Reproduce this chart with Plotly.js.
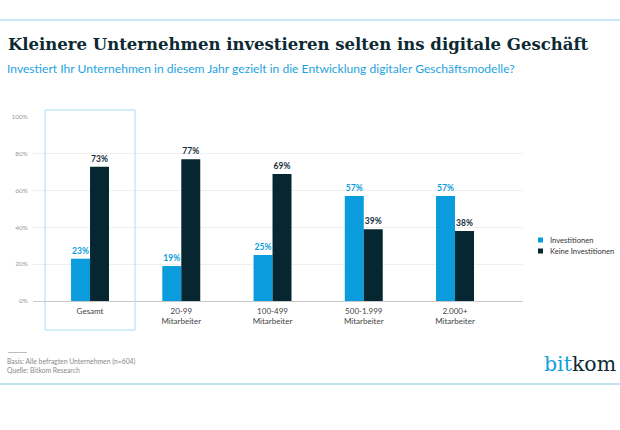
<!DOCTYPE html>
<html>
<head>
<meta charset="utf-8">
<script src="https://cdn.plot.ly/plotly-3.0.1.min.js"></script>
<style>html,body{margin:0;padding:0;background:#fff;}#chart{width:620px;height:430px;}</style>
</head>
<body>
<div id="chart"></div>
<script>
const categories = ['Gesamt', '20-99<br>Mitarbeiter', '100-499<br>Mitarbeiter', '500-1.999<br>Mitarbeiter', '2.000+<br>Mitarbeiter'];
const investitionen = [23, 19, 25, 57, 57];
const keineInvestitionen = [73, 77, 69, 39, 38];
const seriesNames = ['Investitionen', 'Keine Investitionen'];
const yTickValues = [0, 20, 40, 60, 80, 100];
const yTickLabels = ['0%', '20%', '40%', '60%', '80%', '100%'];
const titleText = 'Kleinere Unternehmen investieren selten ins digitale Geschäft';
const subtitleText = 'Investiert Ihr Unternehmen in diesem Jahr gezielt in die Entwicklung digitaler Geschäftsmodelle?';
const footerLines = ['Basis: Alle befragten Unternehmen (n=604)', 'Quelle: Bitkom Research'];

const BLUE = '#0a9cdc';
const DARK = '#062731';
const SANS = 'Lato, "Open Sans", sans-serif';
const SERIF = '"DejaVu Serif", serif';

// plot area in px: left 33, right 523, top 117, bottom 301
const L = 33, R = 523, T = 117, B = 301;
const px = v => (v - L) / (R - L);
const py = v => (B - v) / (B - T);

const barCommon = {
  type: 'bar', x: categories, showlegend: false,
  textposition: 'outside', texttemplate: '%{y}%', cliponaxis: false,
  constraintext: 'none', hoverinfo: 'skip'
};
const traces = [
  Object.assign({}, barCommon, {y: investitionen, name: seriesNames[0], marker: {color: BLUE},
    textfont: {family: SANS, size: 8.5, color: BLUE, weight: 'bold'}}),
  Object.assign({}, barCommon, {y: keineInvestitionen, name: seriesNames[1], marker: {color: DARK},
    textfont: {family: SANS, size: 8.5, color: '#16303a', weight: 'bold'}})
];

const legendColors = [BLUE, DARK];
const legendY = [240, 251];
const legendShapes = seriesNames.map((n, i) => ({
  type: 'rect', xref: 'paper', yref: 'paper',
  x0: px(538), x1: px(543), y0: py(legendY[i] + 2.5), y1: py(legendY[i] - 2.5),
  line: {width: 0}, fillcolor: legendColors[i]
}));
const legendAnnotations = seriesNames.map((n, i) => ({
  xref: 'paper', yref: 'paper', x: px(548), y: py(legendY[i]), xanchor: 'left', yanchor: 'middle',
  text: n, showarrow: false, font: {family: SANS, size: 7.6, color: '#333'}
}));

const layout = {
  width: 620, height: 430,
  margin: {l: L, r: 620 - R, t: T, b: 430 - B, pad: 0},
  paper_bgcolor: '#fff', plot_bgcolor: '#fff',
  showlegend: false,
  barmode: 'group', bargap: 0.584, bargroupgap: 0,
  title: {text: '<b>' + titleText + '</b>', x: 8 / 620, xanchor: 'left', xref: 'container',
    y: 1 - 44 / 430, yref: 'container', yanchor: 'middle',
    font: {family: SERIF, size: 16.5, color: '#0d2a33'}},
  xaxis: {range: [-0.625, 4.745], showgrid: false, zeroline: false, showline: false,
    ticks: '', ticklabelstandoff: 4, tickfont: {family: SANS, size: 8, color: '#444'}, fixedrange: true},
  yaxis: {range: [0, 100], tickvals: yTickValues, ticktext: yTickLabels, showgrid: true, gridcolor: '#efefef',
    gridwidth: 1, zeroline: true, zerolinecolor: '#c8c8c8', zerolinewidth: 1, showline: false,
    ticks: '', ticklabelstandoff: 4, tickfont: {family: SANS, size: 6.5, color: '#9a9a9a'}, fixedrange: true},
  shapes: [
    {type: 'line', xref: 'paper', yref: 'paper', x0: px(0), x1: px(620), y0: py(20), y1: py(20),
      line: {color: '#b7e1f4', width: 1.5}},
    {type: 'line', xref: 'paper', yref: 'paper', x0: px(0), x1: px(620), y0: py(384), y1: py(384),
      line: {color: '#a8dbf3', width: 1.5}},
    {type: 'rect', xref: 'x', yref: 'paper', x0: -0.493, x1: 0.493, y0: py(330), y1: py(110),
      line: {color: '#aadcf2', width: 1}, fillcolor: 'rgba(0,0,0,0)', layer: 'above'},
    {type: 'line', xref: 'paper', yref: 'paper', x0: px(8), x1: px(27), y0: py(352.5), y1: py(352.5),
      line: {color: '#bdbdbd', width: 1}}
  ].concat(legendShapes),
  annotations: [
    {xref: 'paper', yref: 'paper', x: px(5), y: py(68), xanchor: 'left', yanchor: 'middle',
      text: subtitleText, showarrow: false, font: {family: SANS, size: 12.1, color: '#1fa3de'}},
    {xref: 'paper', yref: 'paper', x: px(5), y: py(361.5), xanchor: 'left', yanchor: 'middle',
      text: footerLines[0], showarrow: false, font: {family: SANS, size: 6.8, color: '#8a8a8a'}},
    {xref: 'paper', yref: 'paper', x: px(5), y: py(369.5), xanchor: 'left', yanchor: 'middle',
      text: footerLines[1], showarrow: false, font: {family: SANS, size: 6.8, color: '#8a8a8a'}},
    {xref: 'paper', yref: 'paper', x: px(618), y: py(364), xanchor: 'right', yanchor: 'middle',
      text: '<span style="color:#129fdc">bit</span><span style="color:#0d2a33">kom</span>',
      showarrow: false, font: {family: SERIF, size: 20.5, color: '#0d2a33'}}
  ].concat(legendAnnotations)
};

Plotly.newPlot('chart', traces, layout, {displayModeBar: false, staticPlot: true});
</script>
</body>
</html>
